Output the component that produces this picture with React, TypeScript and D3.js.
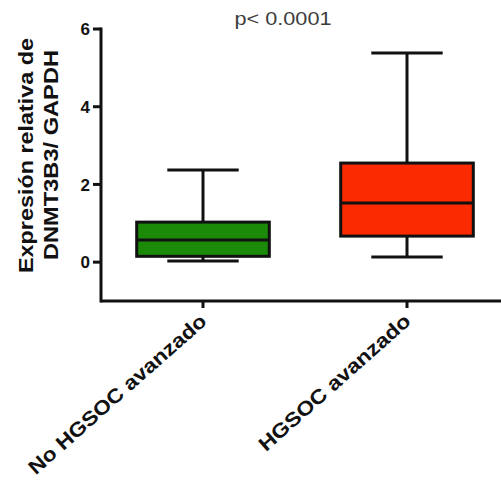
import React from "react";
import * as d3 from "d3";

const categories = ["No HGSOC avanzado", "HGSOC avanzado"];
const mins = [0.03, 0.13];
const q1s = [0.15, 0.67];
const medians = [0.57, 1.52];
const q3s = [1.03, 2.55];
const maxs = [2.37, 5.38];
const fills = ["#1a8a08", "#fb2a00"];
const yTicks = [0, 2, 4, 6];
const pText = "p< 0.0001";
const yLabel1 = "Expresión relativa de";
const yLabel2 = "DNMT3B3/ GAPDH";

const W = 501;
const H = 480;
const font = "'Liberation Sans', Arial, Helvetica, sans-serif";

export default function App() {
  const y = d3.scaleLinear().domain([-1, 6]).range([301, 29]);
  const x = d3.scaleBand().domain(categories).range([101, 509]).padding(0);
  const cx = (c: string) => (x(c) as number) + x.bandwidth() / 2;
  const boxW = x.bandwidth() * 0.65;
  const capW = x.bandwidth() * 0.35;
  const sw = 3;
  const stroke = "#111";
  const labelLens = [230, 195];

  return (
    <svg
      width={W}
      height={H}
      style={{ position: "absolute", left: 0, top: 0, background: "#fff" }}
    >
      {/* boxes */}
      {categories.map((c, i) => {
        const xc = cx(c);
        return (
          <g key={c}>
            <line x1={xc} x2={xc} y1={y(q3s[i])} y2={y(maxs[i])} stroke={stroke} strokeWidth={sw} />
            <line x1={xc} x2={xc} y1={y(q1s[i])} y2={y(mins[i])} stroke={stroke} strokeWidth={sw} />
            <line x1={xc - capW / 2} x2={xc + capW / 2} y1={y(maxs[i])} y2={y(maxs[i])} stroke={stroke} strokeWidth={sw} />
            <line x1={xc - capW / 2} x2={xc + capW / 2} y1={y(mins[i])} y2={y(mins[i])} stroke={stroke} strokeWidth={sw} />
            <rect
              x={xc - boxW / 2}
              y={y(q3s[i])}
              width={boxW}
              height={y(q1s[i]) - y(q3s[i])}
              fill={fills[i]}
              stroke={stroke}
              strokeWidth={sw}
            />
            <line x1={xc - boxW / 2} x2={xc + boxW / 2} y1={y(medians[i])} y2={y(medians[i])} stroke={stroke} strokeWidth={sw} />
          </g>
        );
      })}

      {/* y axis */}
      <line x1={101} x2={101} y1={y(6)} y2={y(-1)} stroke={stroke} strokeWidth={sw} strokeLinecap="square" />
      {yTicks.map((t) => (
        <g key={t}>
          <line x1={93} x2={101} y1={y(t)} y2={y(t)} stroke={stroke} strokeWidth={sw} />
          <text
            x={90}
            y={y(t)}
            dy="0.36em"
            textAnchor="end"
            fontFamily={font}
            fontWeight="bold"
            fontSize={17}
            fill="#111"
          >
            {t}
          </text>
        </g>
      ))}

      {/* x axis */}
      <line x1={101} x2={W} y1={y(-1)} y2={y(-1)} stroke={stroke} strokeWidth={sw} />
      {categories.map((c, i) => {
        const xc = cx(c);
        return (
          <g key={c}>
            <line x1={xc} x2={xc} y1={y(-1)} y2={y(-1) + 7} stroke={stroke} strokeWidth={sw} />
            <text
              transform={`translate(${xc + 5},${y(-1) + 22}) rotate(-41.5)`}
              textAnchor="end"
              fontFamily={font}
              fontWeight="bold"
              fontSize={20}
              fill="#111"
              textLength={labelLens[i]}
              lengthAdjust="spacingAndGlyphs"
            >
              {c}
            </text>
          </g>
        );
      })}

      {/* y label */}
      <text
        transform={`translate(33,155.5) rotate(-90)`}
        textAnchor="middle"
        fontFamily={font}
        fontWeight="bold"
        fontSize={20}
        fill="#111"
        textLength={235}
        lengthAdjust="spacingAndGlyphs"
      >
        {yLabel1}
      </text>
      <text
        transform={`translate(58,155) rotate(-90)`}
        textAnchor="middle"
        fontFamily={font}
        fontWeight="bold"
        fontSize={20}
        fill="#111"
        textLength={210}
        lengthAdjust="spacingAndGlyphs"
      >
        {yLabel2}
      </text>

      {/* p value */}
      <text
        x={283}
        y={25}
        textAnchor="middle"
        fontFamily={font}
        fontSize={19}
        fill="#3c3c3c"
        textLength={97}
        lengthAdjust="spacingAndGlyphs"
      >
        {pText}
      </text>
    </svg>
  );
}
